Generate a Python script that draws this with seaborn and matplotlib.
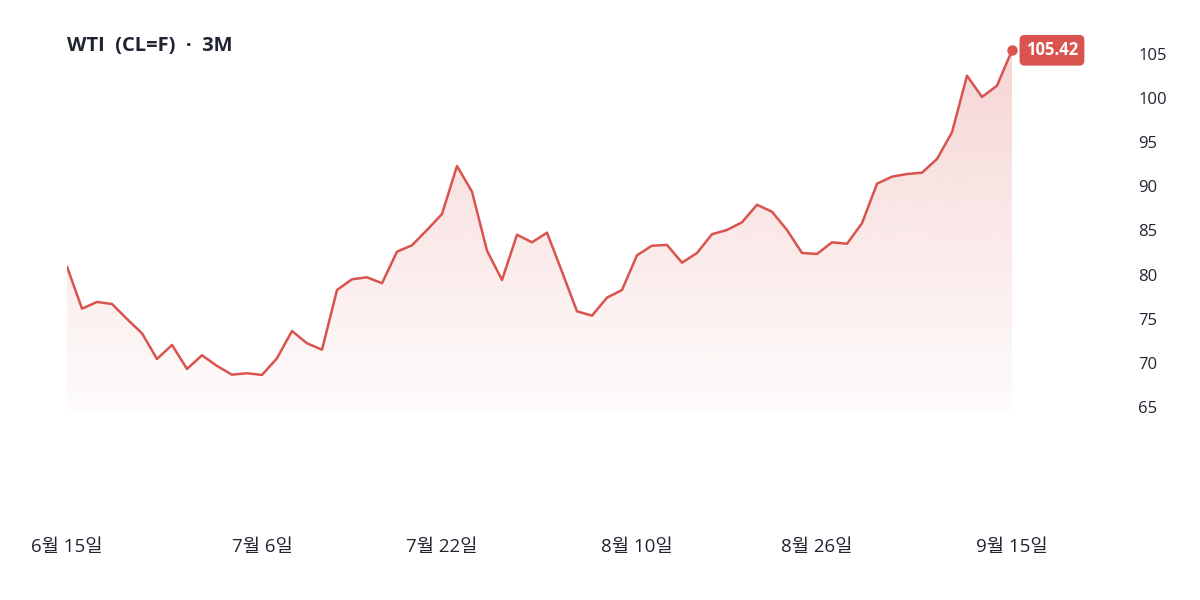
import numpy as np
import matplotlib.pyplot as plt
import seaborn as sns
from matplotlib.colors import to_rgb

sns.set_style('white')
plt.rcParams['font.family'] = ['Open Sans', 'Noto Sans CJK KR', 'DejaVu Sans']

# data
title = 'WTI  (CL=F)  ·  3M'
prices = [80.90, 76.14, 76.90, 76.67, 74.97, 73.35, 70.44, 72.03, 69.31, 70.86,
          69.65, 68.66, 68.82, 68.63, 70.52, 73.61, 72.22, 71.49, 78.26, 79.47,
          79.70, 79.02, 82.60, 83.32, 85.06, 86.87, 92.31, 89.40, 82.71, 79.39,
          84.52, 83.66, 84.75, 80.33, 75.84, 75.35, 77.39, 78.26, 82.19, 83.28,
          83.36, 81.35, 82.45, 84.58, 85.06, 85.93, 87.92, 87.13, 85.06, 82.45,
          82.34, 83.66, 83.50, 85.82, 90.30, 91.10, 91.40, 91.55, 93.10, 96.13,
          102.54, 100.13, 101.41, 105.42]
tickIdx = [0, 13, 25, 38, 50, 63]
tickLabels = ['6월 15일', '7월 6일', '7월 22일', '8월 10일', '8월 26일', '9월 15일']
yTicks = [65, 70, 75, 80, 85, 90, 95, 100, 105]

lineColor = '#d9534f'
textColor = '#1f2430'
days = np.arange(len(prices))
fillBase = 64.43

fig = plt.figure(figsize=(12, 6), dpi=100)
ax = fig.add_axes([67/1200, (600-412)/600, (1012-67)/1200, (412-30)/600])

# gradient fill under the line, clipped to the area polygon
area = ax.fill_between(days, prices, fillBase, color='none', lw=0)
grad = np.zeros((256, 1, 4))
grad[..., :3] = to_rgb(lineColor)
grad[..., 3] = np.linspace(0.24, 0.02, 256)[:, None]
img = ax.imshow(grad, extent=[0, days[-1], fillBase, max(prices)],
                aspect='auto', origin='upper', zorder=1)
img.set_clip_path(area.get_paths()[0], transform=ax.transData)

sns.lineplot(x=days, y=prices, color=lineColor, lw=1.8, ax=ax, zorder=3)
ax.plot(days[-1], prices[-1], 'o', ms=6.5, color=lineColor, clip_on=False, zorder=4)

ax.annotate(f'{prices[-1]:.2f}', xy=(days[-1], prices[-1]), xytext=(10, 0),
            textcoords='offset points', ha='left', va='center', color='white',
            fontsize=12, fontweight='bold', annotation_clip=False,
            bbox=dict(boxstyle='round,pad=0.38,rounding_size=0.3', fc=lineColor, ec='none'))

ax.set_xlim(0, days[-1])
ax.set_ylim(fillBase, 107.72)

ax.set_xticks(tickIdx, tickLabels)
ax.set_yticks(yTicks)
ax.yaxis.tick_right()
ax.tick_params(axis='x', length=0, pad=91, labelsize=13.5, labelcolor=textColor)
ax.tick_params(axis='y', length=0, pad=91, labelsize=12, labelcolor=textColor)
for s in ax.spines.values():
    s.set_visible(False)
ax.grid(False)

fig.text(67/1200, 1-45.5/600, title, fontsize=14.5, fontweight='bold',
         color=textColor, ha='left', va='center')

fig.savefig('out.png', dpi=100)
